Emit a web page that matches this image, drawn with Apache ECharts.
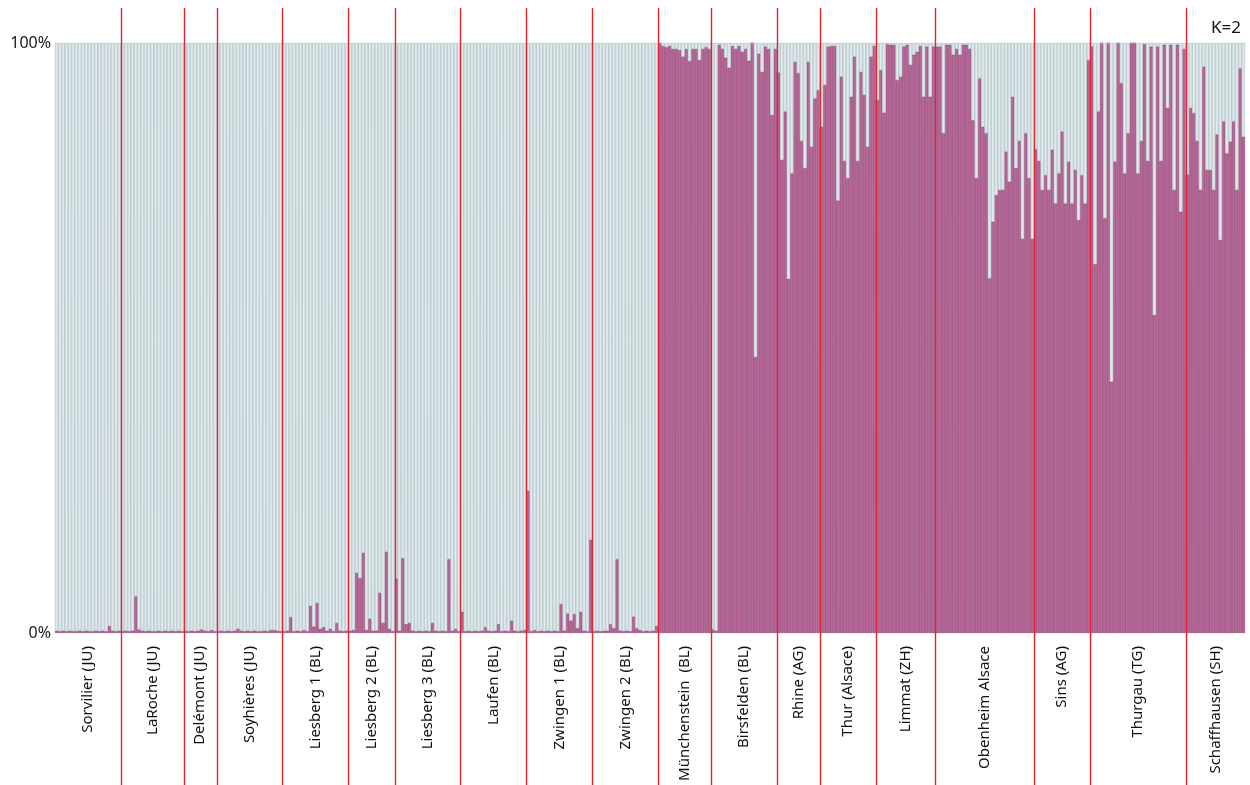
<!DOCTYPE html>
<html>
<head>
<meta charset="utf-8">
<script src="https://cdn.jsdelivr.net/npm/echarts@6/dist/echarts.min.js"></script>
<style>
  html, body { margin: 0; padding: 0; background: #ffffff; }
  #chart { width: 1250px; height: 785px; }
</style>
</head>
<body>
<div id="chart"></div>
<script>
// Population labels, in plotting order
const popNames = [
  'Sorvilier (JU)', 'LaRoche (JU)', 'Delémont (JU)', 'Soyhières (JU)',
  'Liesberg 1 (BL)', 'Liesberg 2 (BL)', 'Liesberg 3 (BL)', 'Laufen (BL)',
  'Zwingen 1 (BL)', 'Zwingen 2 (BL)', 'Münchenstein  (BL)', 'Birsfelden (BL)',
  'Rhine (AG)', 'Thur (Alsace)', 'Limmat (ZH)', 'Obenheim Alsace',
  'Sins (AG)', 'Thurgau (TG)', 'Schaffhausen (SH)'
];

// Membership in cluster 1 (purple) for every individual, K = 2
const sorvilier = [0.004,0.003,0.004,0.003,0.004,0.003,0.003,0.004,0.003,0.004,0.003,0.003,0.004,0.003,0.004,0.003,0.012,0.004,0.003,0.004];
const laRoche = [0.003,0.004,0.003,0.004,0.062,0.006,0.004,0.003,0.004,0.003,0.003,0.004,0.003,0.004,0.003,0.004,0.003,0.004,0.003];
const delemont = [0.004,0.003,0.004,0.003,0.004,0.006,0.004,0.003,0.005,0.003];
const soyhieres = [0.003,0.004,0.003,0.004,0.003,0.004,0.007,0.004,0.003,0.004,0.003,0.004,0.003,0.003,0.004,0.003,0.005,0.005,0.004,0.003];
const liesberg1 = [0.003,0.004,0.027,0.003,0.004,0.003,0.005,0.003,0.046,0.011,0.051,0.007,0.010,0.004,0.007,0.003,0.017,0.004,0.003,0.004];
const liesberg2 = [0.004,0.005,0.102,0.093,0.136,0.005,0.024,0.004,0.004,0.068,0.017,0.138,0.007,0.003];
const liesberg3 = [0.092,0.004,0.127,0.015,0.017,0.004,0.003,0.004,0.003,0.004,0.003,0.017,0.004,0.003,0.004,0.003,0.125,0.004,0.007,0.003];
const laufen = [0.036,0.003,0.004,0.003,0.004,0.003,0.004,0.010,0.004,0.003,0.004,0.015,0.003,0.004,0.003,0.021,0.004,0.003,0.004,0.005];
const zwingen1 = [0.241,0.003,0.005,0.003,0.004,0.003,0.004,0.003,0.004,0.003,0.049,0.004,0.033,0.021,0.032,0.008,0.036,0.004,0.003,0.158];
const zwingen2 = [0.003,0.004,0.003,0.004,0.004,0.015,0.008,0.125,0.004,0.003,0.004,0.003,0.028,0.008,0.005,0.003,0.004,0.003,0.004,0.012];
const munchenstein = [1.0,0.995,0.993,0.995,0.99,0.99,0.988,0.977,0.99,0.969,0.99,0.99,0.971,0.99,0.993,0.99];
const birsfelden = [0.006,0.004,0.997,0.99,0.975,0.958,0.995,0.99,0.995,0.985,0.99,0.97,1.0,0.468,0.982,0.951,0.994,0.99,0.878,0.99];
const rhine = [0.95,0.802,0.884,0.6,0.779,0.968,0.949,0.834,0.788,0.968,0.824,0.906,0.92];
const thur = [0.858,0.929,0.994,0.995,0.995,0.733,0.943,0.8,0.771,0.909,0.977,0.8,0.951,0.912,0.824,0.977,0.995];
const limmat = [0.903,0.954,0.882,0.998,0.997,0.997,0.937,0.943,0.994,0.997,0.963,0.98,0.985,0.995,0.909,0.994,0.909,0.994];
const obenheim = [0.994,0.994,0.847,0.997,0.997,0.98,0.99,0.98,0.997,0.997,0.99,0.869,0.771,0.94,0.858,0.847,0.601,0.697,0.742,0.751,0.751,0.816,0.765,0.909,0.788,0.834,0.668,0.847,0.771,0.668];
const sins = [0.82,0.8,0.751,0.776,0.751,0.819,0.728,0.779,0.85,0.728,0.799,0.728,0.785,0.7,0.776,0.728,0.971];
const thurgau = [0.994,0.625,0.884,1.0,0.703,1.0,0.426,0.799,1.0,0.932,0.779,0.847,1.0,1.0,0.779,0.834,0.998,0.8,0.994,0.539,0.994,0.8,0.997,0.89,0.997,0.751,0.997,0.714,0.99];
const schaffhausen = [0.777,0.89,0.881,0.834,0.751,0.96,0.785,0.785,0.751,0.845,0.666,0.867,0.813,0.833,0.867,0.751,0.957,0.841];

const groups = [sorvilier, laRoche, delemont, soyhieres, liesberg1, liesberg2, liesberg3,
  laufen, zwingen1, zwingen2, munchenstein, birsfelden, rhine, thur, limmat,
  obenheim, sins, thurgau, schaffhausen];

const yTicks = [0, 1];
const kLabel = 'K=2';

// Flatten into one individual per category; cluster 2 is the remainder of each row
const ids = [], q1 = [], q2 = [], starts = [];
groups.forEach((g, gi) => {
  starts.push(ids.length);
  g.forEach((v, i) => {
    ids.push(popNames[gi] + ' #' + (i + 1));
    q1.push(v);
    q2.push(+(1 - v).toFixed(3));
  });
});

const chart = echarts.init(document.getElementById('chart'), null, { renderer: 'canvas' });

chart.setOption({
  animation: false,
  backgroundColor: '#ffffff',
  grid: { left: 55, right: 5, top: 43, bottom: 152, containLabel: false },
  xAxis: {
    type: 'category',
    data: ids,
    axisLabel: { show: false },
    axisTick: { show: false },
    axisLine: { show: false },
    splitLine: { show: false }
  },
  yAxis: {
    type: 'value',
    min: yTicks[0],
    max: yTicks[yTicks.length - 1],
    interval: 1,
    axisLine: { show: false },
    axisTick: { show: false },
    splitLine: { show: false },
    axisLabel: {
      margin: 4,
      color: '#1a1a1a',
      fontFamily: 'Noto Sans',
      fontSize: 16,
      formatter: v => Math.round(v * 100) + '%'
    }
  },
  series: [
    {
      name: 'Cluster 1',
      type: 'bar',
      stack: 'q',
      data: q1,
      barCategoryGap: '0%',
      itemStyle: { color: '#bb6699', borderColor: '#87406f', borderWidth: 0.6 }
    },
    {
      name: 'Cluster 2',
      type: 'bar',
      stack: 'q',
      data: q2,
      barCategoryGap: '0%',
      itemStyle: { color: '#e0ebee', borderColor: '#a9babe', borderWidth: 0.6 }
    }
  ]
});

// Population separators, names and the K label, placed from the category axis
const px = i => chart.convertToPixel({ xAxisIndex: 0 }, i);
const band = px(1) - px(0);
const gfx = [];
starts.slice(1).forEach(s => {
  const x = Math.round(px(s) - band / 2) + 0.5;
  gfx.push({
    type: 'line', z: 100, silent: true,
    shape: { x1: x, y1: 8, x2: x, y2: 785 },
    style: { stroke: '#e4262c', lineWidth: 1.4 }
  });
});
popNames.forEach((name, gi) => {
  const a = starts[gi], b = a + groups[gi].length - 1;
  const cx = (px(a) + px(b)) / 2;
  gfx.push({
    type: 'text', z: 101, silent: true,
    x: cx, y: 646, rotation: Math.PI / 2,
    style: {
      text: name, fill: '#111111',
      font: '15px "Noto Sans"',
      textAlign: 'right', textVerticalAlign: 'middle'
    }
  });
});
gfx.push({
  type: 'text', z: 101, silent: true,
  x: 1241, y: 28,
  style: {
    text: kLabel, fill: '#111111',
    font: '17px "Noto Sans"',
    textAlign: 'right', textVerticalAlign: 'middle'
  }
});
chart.setOption({ graphic: gfx });
</script>
</body>
</html>
